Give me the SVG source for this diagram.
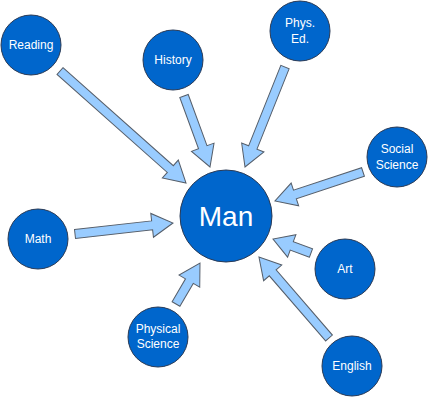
<svg xmlns="http://www.w3.org/2000/svg" width="428" height="400" viewBox="0 0 428 400">
<style>
.n{fill:#0066cc;stroke:#2a3a55;stroke-width:1}
.a{fill:#99ccff;stroke:#555e6a;stroke-width:1;stroke-linejoin:miter}
text{font-family:"Liberation Sans",Arial,sans-serif;fill:#ffffff;text-anchor:middle}
.s{font-size:12px}
.m{font-size:28px}
</style>
<rect width="428" height="400" fill="#ffffff"/>
<g id="connectors">
<polygon class="a" transform="translate(60,71) rotate(41.63)" points="0,-4.5 147.6,-4.5 147.6,-12 168.6,0 147.6,12 147.6,4.5 0,4.5"/>
<polygon class="a" transform="translate(184,96) rotate(69.9)" points="0,-4.5 54.6,-4.5 54.6,-12 75.6,0 54.6,12 54.6,4.5 0,4.5"/>
<polygon class="a" transform="translate(285,67) rotate(111.8)" points="0,-4.5 86.7,-4.5 86.7,-12 107.7,0 86.7,12 86.7,4.5 0,4.5"/>
<polygon class="a" transform="translate(363,172) rotate(161.76)" points="0,-4.5 71.7,-4.5 71.7,-12 92.7,0 71.7,12 71.7,4.5 0,4.5"/>
<polygon class="a" transform="translate(75,234) rotate(-6.4)" points="0,-4.5 77.6,-4.5 77.6,-12 98.6,0 77.6,12 77.6,4.5 0,4.5"/>
<polygon class="a" transform="translate(176,304) rotate(-59.66)" points="0,-4.5 26.5,-4.5 26.5,-12 47.5,0 26.5,12 26.5,4.5 0,4.5"/>
<polygon class="a" transform="translate(311,253) rotate(-159.8)" points="0,-4.5 20.5,-4.5 20.5,-12 40.5,0 20.5,12 20.5,4.5 0,4.5"/>
<polygon class="a" transform="translate(329,338) rotate(-130.84)" points="0,-4.5 86.1,-4.5 86.1,-12 107.1,0 86.1,12 86.1,4.5 0,4.5"/>
</g>
<g id="man"><circle class="n" cx="226" cy="216" r="46"/><text class="m" x="226" y="226">Man</text></g>
<g id="reading"><circle class="n" cx="31" cy="45" r="30"/><text class="s" x="31" y="49">Reading</text></g>
<g id="history"><circle class="n" cx="173" cy="60" r="30"/><text class="s" x="173" y="64">History</text></g>
<g id="physed"><circle class="n" cx="300" cy="31" r="30"/><text class="s" x="300" y="27">Phys.</text><text class="s" x="300" y="43">Ed.</text></g>
<g id="social"><circle class="n" cx="397" cy="157" r="30"/><text class="s" x="397" y="153">Social</text><text class="s" x="397" y="169">Science</text></g>
<g id="math"><circle class="n" cx="38" cy="239" r="30"/><text class="s" x="38" y="243">Math</text></g>
<g id="physsci"><circle class="n" cx="158" cy="337" r="30"/><text class="s" x="158" y="333">Physical</text><text class="s" x="158" y="348">Science</text></g>
<g id="art"><circle class="n" cx="345" cy="269" r="30"/><text class="s" x="345" y="273">Art</text></g>
<g id="english"><circle class="n" cx="352" cy="366" r="30"/><text class="s" x="352" y="370">English</text></g>
</svg>
